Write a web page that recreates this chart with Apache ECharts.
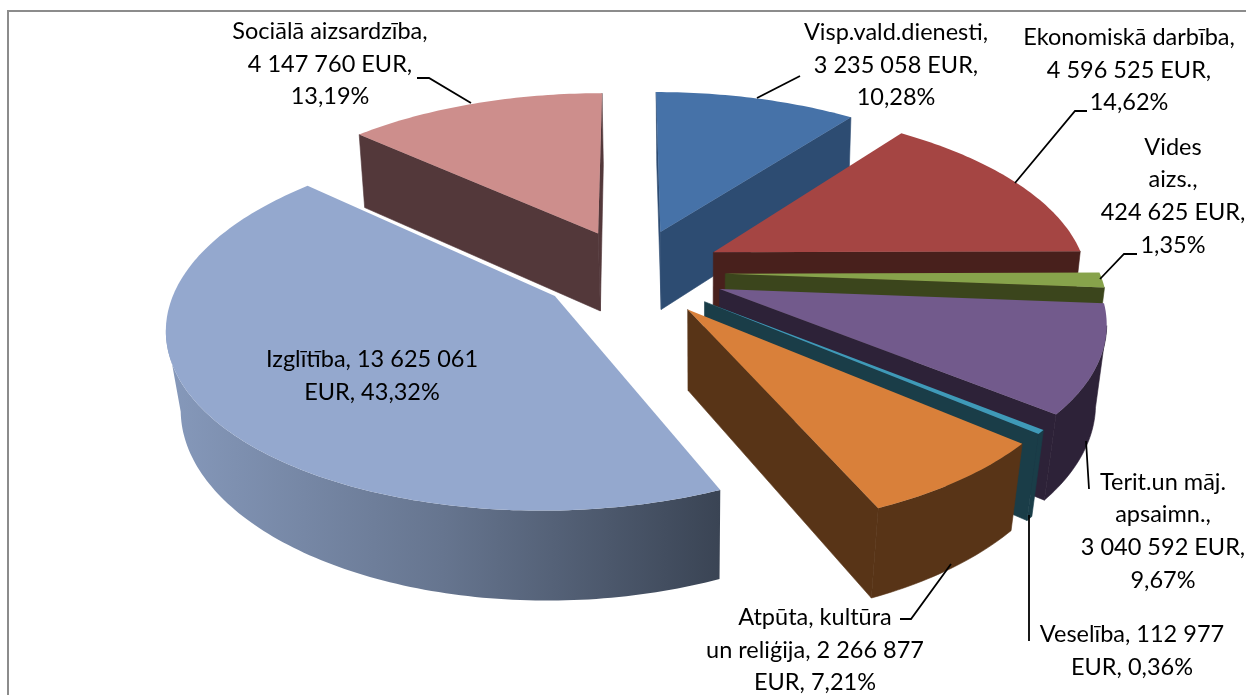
<!DOCTYPE html>
<html>
<head>
<meta charset="utf-8">
<style>html,body{margin:0;padding:0;background:#fff}#c{width:1246px;height:695px}</style>
<script src="https://cdn.jsdelivr.net/npm/echarts@6/dist/echarts.min.js"></script>
</head>
<body>
<div id="c"></div>
<script>
// Data: clockwise from 12 o'clock
const names = ['Visp.vald.dienesti','Ekonomiskā darbība','Vides aizs.','Terit.un māj. apsaimn.','Veselība','Atpūta, kultūra un reliģija','Izglītība','Sociālā aizsardzība'];
const values = [3235058,4596525,424625,3040592,112977,2266877,13625061,4147760];
// Per-slice explosion (fraction of radius) and small change of its direction (degrees)
const explode = [0.256,0.26,0.26,0.26,0.26,0.26,0.235,0.245];
const explodeTurn = [2,0,0,0,0,0,0,4];
// Colours
const topColors = ['#4672a8','#a54543','#87a34b','#725a8c','#3f9ab8','#d9803a','#94a8ce','#cd8e8c'];
const sideColors = ['#2d4c72','#48201c','#3b451c','#2d2238','#1a3d48','#583417','#5a6a85','#53383a'];
// Painter's order, back to front
const drawOrder = [0,7,1,2,3,4,5,6];
// Labels
const labelTexts = [
  'Visp.vald.dienesti,\n3 235 058 EUR,\n10,28%',
  'Ekonomiskā darbība,\n4 596 525 EUR,\n14,62%',
  'Vides\naizs.,\n424 625 EUR,\n1,35%',
  'Terit.un māj.\napsaimn.,\n3 040 592 EUR,\n9,67%',
  'Veselība, 112 977\nEUR, 0,36%',
  'Atpūta, kultūra\nun reliģija, 2 266 877\nEUR, 7,21%',
  'Izglītība, 13 625 061\nEUR, 43,32%',
  'Sociālā aizsardzība,\n4 147 760 EUR,\n13,19%'
];
const labelCenters = [[896,65],[1129,70],[1173,196],[1163,531],[1132,651],[815,650],[372,376],[330,64]];
const leaders = [
  [[757,98],[800,76]],
  [[1087,111],[1075,111],[1015,183]],
  [[1100,279],[1124,254],[1137,254]],
  [[1086,441],[1089,489]],
  [[1029,515],[1029,641]],
  [[951,564],[911,619],[900,619]],
  [],
  [[417,78],[429,78],[471,103]]
];

// Projection parameters
const VP = {x:628, y:272, a:374, b:173, k:0.155};
function proj(X,Z){const d=1+VP.k*Z;return [VP.x+VP.a*X/d, VP.y-VP.b*Z/d];}
function drop(p){
  const h=67+0.045*p[1];
  const s=0.008+0.00006*p[1];
  return [p[0]-(p[0]-700)*s, p[1]+h];
}
const total = values.reduce((a,b)=>a+b,0);
const angles=[];let acc=0;
values.forEach(v=>{const a=acc/total*2*Math.PI;acc+=v;angles.push([a,acc/total*2*Math.PI]);});

function sliceElements(i){
  const [a0,a1]=angles[i];
  const m=(a0+a1)/2+explodeTurn[i]*Math.PI/180, d=explode[i];
  const ex=d*Math.sin(m), ez=d*Math.cos(m);
  const apex=proj(ex,ez);
  const n=Math.max(2,Math.ceil((a1-a0)/(Math.PI/180)));
  const rim=[];
  for(let j=0;j<=n;j++){const t=a0+(a1-a0)*j/n;rim.push(proj(ex+Math.sin(t),ez+Math.cos(t)));}
  const kids=[];
  const side=sideColors[i];
  const cross=(u,v)=>u[0]*v[1]-u[1]*v[0];
  const sub=(p,q)=>[p[0]-q[0],p[1]-q[1]];
  const mid=rim[n>>1];
  [rim[0],rim[n]].forEach(r=>{
    const e=sub(r,apex);
    if(cross(e,[0,1])*cross(e,sub(mid,apex))<0){
      kids.push({type:'polygon',silent:true,shape:{points:[apex,r,drop(r),drop(apex)]},style:{fill:side,stroke:side,lineWidth:0.6}});
    }
  });
  // outer wall: only the part running right-to-left on screen faces the viewer
  const vis=[];
  for(let j=0;j<n;j++){
    if(rim[j+1][0]<rim[j][0]){ if(!vis.length) vis.push(rim[j]); vis.push(rim[j+1]); }
  }
  if(vis.length){
    const pts=vis.concat(vis.map(drop).reverse());
    const isGrad=i===6;
    const fill=isGrad?new echarts.graphic.LinearGradient(0,0,1,0,[
      {offset:0,color:'#8699bb'},{offset:0.5,color:'#66758f'},{offset:1,color:'#3a4454'}]):side;
    kids.push({type:'polygon',silent:true,shape:{points:pts},style:isGrad?{fill}:{fill,stroke:side,lineWidth:0.6}});
  }
  kids.push({type:'polygon',silent:true,shape:{points:[apex].concat(rim)},style:{fill:topColors[i]}});
  return kids;
}

const chart=echarts.init(document.getElementById('c'),null,{renderer:'canvas'});
const graphics=[
  {type:'rect',z:0,silent:true,shape:{x:8,y:11,width:1300,height:720},style:{fill:'#fff',stroke:'#8c8c8c',lineWidth:2}}
];
leaders.forEach(l=>{ if(l.length) graphics.push({type:'polyline',z:20,silent:true,shape:{points:l},style:{fill:null,stroke:'#000',lineWidth:1.8}}); });
labelTexts.forEach((t,i)=>{
  graphics.push({type:'text',z:30,silent:true,x:labelCenters[i][0],y:labelCenters[i][1],style:{
    text:t,fill:'#000',font:'23.5px Lato',align:'center',verticalAlign:'middle',lineHeight:32.7}});
});
chart.setOption({
  animation:false,
  backgroundColor:'#fff',
  graphic:graphics,
  series:[{
    type:'custom',
    coordinateSystem:'none',
    silent:true,
    z:10,
    data:drawOrder.map(i=>({name:names[i],value:[i,values[i]]})),
    renderItem:(params,api)=>({type:'group',children:sliceElements(api.value(0))})
  }]
});
</script>
</body>
</html>
